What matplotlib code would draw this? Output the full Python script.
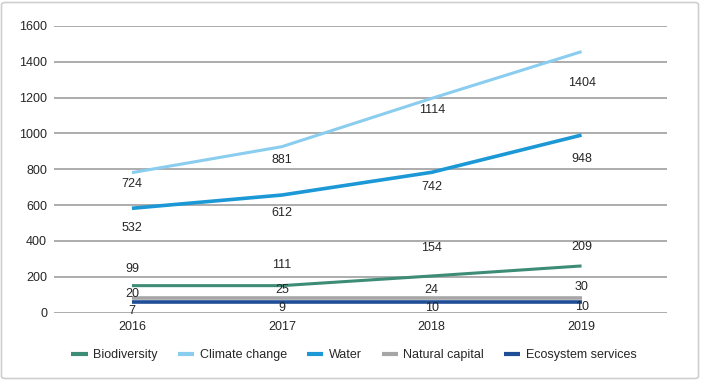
import matplotlib
matplotlib.use("Agg")
import matplotlib.pyplot as plt
from matplotlib.patches import FancyBboxPatch

plt.rcParams['font.family'] = ['Liberation Sans', 'DejaVu Sans']

years = ["2016", "2017", "2018", "2019"]
series_names = ["Biodiversity", "Climate change", "Water", "Natural capital", "Ecosystem services"]
colors = ["#3d8c76", "#8acdee", "#1b98d5", "#a6a6a6", "#1f4d96"]

# line positions as drawn in the picture
line_biodiversity = [150, 150, 204, 260]
line_climate = [781, 926, 1196, 1457]
line_water = [582, 656, 783, 991]
line_natcap = [82, 82, 82, 82]
line_ecosystem = [57, 57, 57, 57]

# data labels shown in the picture
lab_biodiversity = [99, 111, 154, 209]
lab_climate = [724, 881, 1114, 1404]
lab_water = [532, 612, 742, 948]
lab_natcap = [20, 25, 24, 30]
lab_ecosystem = [7, 9, 10, 10]

lines = [line_biodiversity, line_climate, line_water, line_natcap, line_ecosystem]
labels = [lab_biodiversity, lab_climate, lab_water, lab_natcap, lab_ecosystem]
# label offsets in pixels (positive = up)
offsets = [[17, 21, 28, 19], [-11, -13, -12, -31], [-20, -18, -15, -24],
           [4, 8, 8, 11], [-9, -6, -6, -5]]
widths = [2.2, 2.2, 2.6, 2.6, 2.6]

fig = plt.figure(figsize=(7.01, 3.8), dpi=100)
ax = fig.add_axes([54/701, 1 - 312.5/380, (667-54)/701, (312.5-26)/380])

x = list(range(len(years)))
for name, ys, col, lw in zip(series_names, lines, colors, widths):
    ax.plot(x, ys, color=col, lw=lw, label=name, solid_capstyle='butt', zorder=3)

for ys, labs, offs in zip(lines, labels, offsets):
    for xi, yv, lv, o in zip(x, ys, labs, offs):
        ax.annotate(str(lv), (xi, yv), xytext=(0, o), textcoords='offset pixels',
                    ha='center', va='center', fontsize=9, color='#262626', zorder=4)

ax.set_xlim(-0.52, 3.57)
ax.set_ylim(0, 1600)
ax.set_yticks(range(0, 1601, 200))
ax.set_xticks(x)
ax.set_xticklabels(years)
ax.grid(axis='y', color='#a6a6a6', lw=1.3)
ax.set_axisbelow(True)
for s in ax.spines.values():
    s.set_visible(False)
ax.tick_params(axis='both', length=0, labelsize=9, colors='#262626')
ax.tick_params(axis='y', pad=5)
ax.tick_params(axis='x', pad=6)

leg = fig.legend(loc='center', bbox_to_anchor=(354/701, 1 - 355/380), ncol=5,
                 frameon=False, fontsize=9, handlelength=1.3, handletextpad=0.45,
                 columnspacing=1.6)
for h in leg.get_lines():
    h.set_linewidth(3)
for t in leg.get_texts():
    t.set_color('#262626')

border = FancyBboxPatch((1.5/701, 1.5/380), 697/701, 376/380,
                        boxstyle="round,pad=0,rounding_size=0.006",
                        transform=fig.transFigure, fill=False,
                        edgecolor='#cfcfcf', lw=1.2)
fig.patches.append(border)

fig.savefig("out.png", dpi=100)
